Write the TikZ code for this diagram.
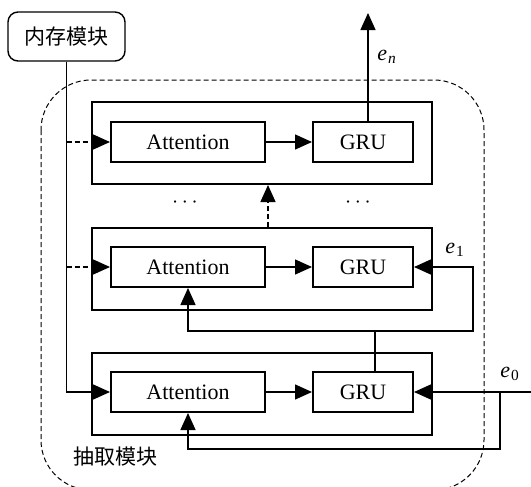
\documentclass[tikz,border=0pt]{standalone}
\usepackage{fontspec}
\setmainfont{Liberation Serif}
\newfontfamily\cjk{Noto Sans CJK SC}
\usetikzlibrary{arrows.meta}

\begin{document}
\begin{tikzpicture}[x=0.5pt,y=-0.5pt,
  font=\fontsize{11}{13}\selectfont,
  layerbox/.style={draw,line width=1pt,minimum width=170pt,minimum height=41pt},
  attnbox/.style={draw,line width=1pt,minimum width=77pt,minimum height=20pt,inner sep=0pt},
  grubox/.style={draw,line width=1pt,minimum width=50pt,minimum height=20pt,inner sep=0pt},
  flow/.style={line width=0.7pt,-{Triangle[length=8.5pt,width=7.5pt]}},
  plain/.style={line width=0.7pt},
  dashy/.style={dash pattern=on 2.5pt off 1.5pt},
  elabel/.style={font=\fontsize{11}{12}\selectfont}]

  \useasboundingbox (0,0) rectangle (531,487);

  \draw[dashy,line width=0.5pt,rounded corners=25pt] (41,80) rectangle (484,490);
  \node[font=\cjk\fontsize{10.5}{12}\selectfont] (extract) at (116,457) {抽取模块};

  \node[draw,line width=0.7pt,rounded corners=5pt,minimum width=58.5pt,minimum height=24.5pt,
        font=\cjk\fontsize{10.5}{12}\selectfont] (mem) at (66.5,36.5) {内存模块};

  \node[layerbox] (L3) at (262,143) {};
  \node[layerbox] (L2) at (262,269) {};
  \node[layerbox] (L1) at (262,393.5) {};

  \node[attnbox] (A3) at (188,142) {Attention};
  \node[grubox] (G3) at (363,142) {GRU};
  \node[attnbox] (A2) at (188,267) {Attention};
  \node[grubox] (G2) at (363,267) {GRU};
  \node[attnbox] (A1) at (188,392) {Attention};
  \node[grubox] (G1) at (363,392) {GRU};

  \draw[flow] (A3) -- (G3);
  \draw[flow] (A2) -- (G2);
  \draw[flow] (A1) -- (G1);

  % memory into each layer
  \draw[flow] (mem.south) |- (A1.west);
  \draw[flow,dashy] (mem.south |- A2.west) -- (A2.west);
  \draw[flow,dashy] (mem.south |- A3.west) -- (A3.west);

  % output of the last layer
  \coordinate (out) at (368,13);
  \draw[flow] ([xshift=2.5pt]G3.north) -- (out);
  \node[elabel] (en) at (387,57) {\textit{e}\kern0.5pt\textsubscript{\textit{n}}};

  \draw[flow,dashy] ([xshift=3pt]L2.north) -- ([xshift=3pt]L3.south);
  \node (dotsl) at (185,203) {$\cdots$};
  \node (dotsr) at (358,203) {$\cdots$};

  % e_1 from the first layer
  \coordinate (j1) at (375,331);
  \coordinate (r1) at (473,331);
  \draw[plain] ([xshift=6pt]G1.north) -- (j1);
  \draw[flow] (j1) -| (A2.south);
  \draw[flow] (j1) -- (r1) |- (G2.east);
  \node[elabel] (e1) at (455,250) {\textit{e}\kern0.5pt\textsubscript{1}};

  % e_0 input
  \coordinate (in0) at (531,392);
  \coordinate (b0) at (500,392);
  \coordinate (r0) at (500,449);
  \draw[flow] (in0) -- (G1.east);
  \draw[flow] (b0) -- (r0) -| (A1.south);
  \node[elabel] (e0) at (510,374) {\textit{e}\kern0.5pt\textsubscript{0}};

\end{tikzpicture}
\end{document}
